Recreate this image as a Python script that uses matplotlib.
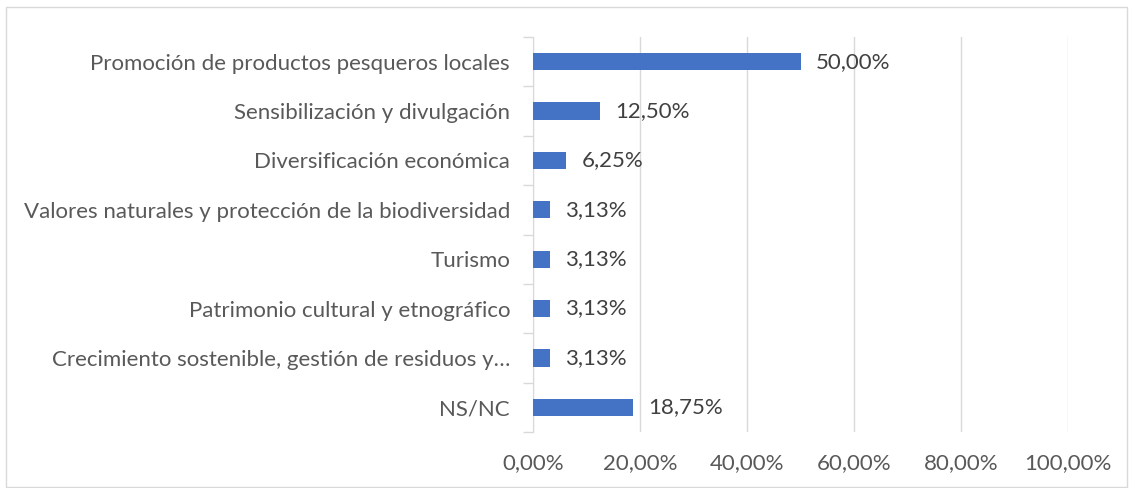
import numpy as np
import matplotlib.pyplot as plt
from matplotlib.patches import Rectangle

categories = [
    "Promoción de productos pesqueros locales",
    "Sensibilización y divulgación",
    "Diversificación económica",
    "Valores naturales y protección de la biodiversidad",
    "Turismo",
    "Patrimonio cultural y etnográfico",
    "Crecimiento sostenible, gestión de residuos y…",
    "NS/NC",
]
values = [50.00, 12.50, 6.25, 3.13, 3.13, 3.13, 3.13, 18.75]
xticks = [0, 20, 40, 60, 80, 100]

plt.rcParams['font.family'] = ['Lato', 'DejaVu Sans']
txt = '#595959'

fig = plt.figure(figsize=(11.29, 4.88), dpi=100)
ax = fig.add_axes([533 / 1129, 1 - 432 / 488, (1068 - 533) / 1129, (432 - 37) / 488])

y = np.arange(len(categories))
ax.barh(y, values, height=0.35, color='#4472C4', zorder=3)
ax.set_ylim(len(categories) - 0.5, -0.5)
ax.set_xlim(0, 100)

for yi, v in zip(y, values):
    ax.text(v + 2.8, yi, f"{v:.2f}%".replace('.', ','), va='center', ha='left',
            fontsize=16, color='#404040')

ax.set_yticks(y)
ax.set_yticklabels(categories, fontsize=16, color=txt)
ax.set_yticks(np.arange(-0.5, len(categories)), minor=True)
ax.tick_params(axis='y', which='major', length=0, pad=16.5)
ax.tick_params(axis='y', which='minor', length=7, color='#D9D9D9', width=1)

ax.set_xticks(xticks)
ax.set_xticklabels([f"{t:.2f}%".replace('.', ',') for t in xticks], fontsize=16, color=txt)
ax.tick_params(axis='x', length=0, pad=15)
ax.grid(axis='x', color='#D9D9D9', linewidth=1, zorder=0)

for s in ['top', 'right', 'bottom']:
    ax.spines[s].set_visible(False)
ax.spines['left'].set_color('#D9D9D9')

fig.patches.append(Rectangle((6 / 1129, 1 / 488), 1121 / 1129, 480 / 488,
                             transform=fig.transFigure, fill=False,
                             edgecolor='#D9D9D9', linewidth=1))

fig.savefig('out.png', dpi=100)
